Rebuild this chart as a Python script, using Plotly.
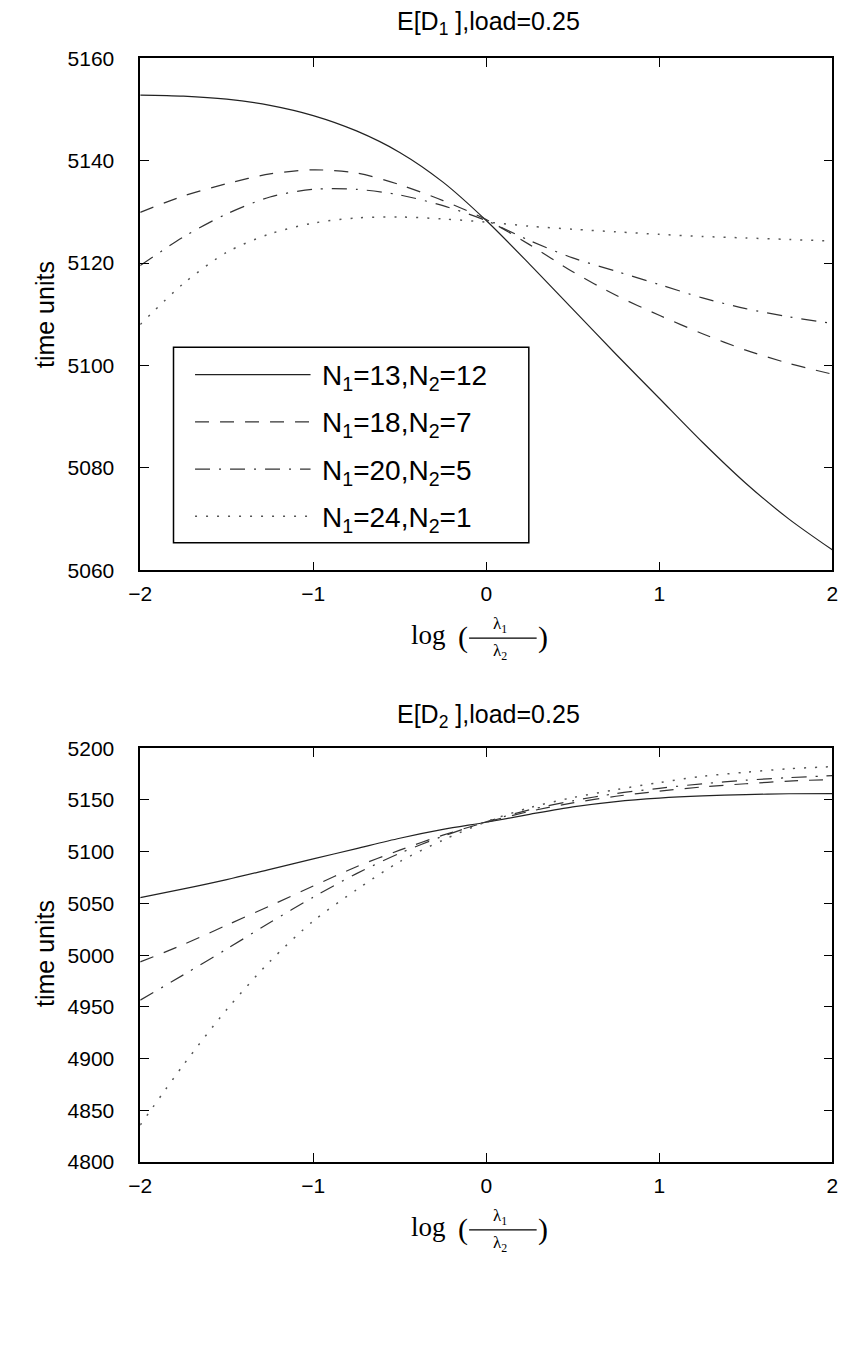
import plotly.graph_objects as go

W, H = 850, 1351

# ---------------- data ----------------
x_log_ratio = [-2, -1.75, -1.5, -1.25, -1, -0.75, -0.5, -0.25, 0,
               0.25, 0.5, 0.75, 1, 1.25, 1.5, 1.75, 2]

series_names = ["N<sub>1</sub>=13,N<sub>2</sub>=12",
                "N<sub>1</sub>=18,N<sub>2</sub>=7",
                "N<sub>1</sub>=20,N<sub>2</sub>=5",
                "N<sub>1</sub>=24,N<sub>2</sub>=1"]

# E[D1], load = 0.25
d1_13_12 = [5152.8, 5152.6, 5152.0, 5150.8, 5148.8, 5145.8, 5141.6, 5135.8, 5128.3,
            5119.8, 5111.0, 5102.2, 5093.6, 5085.0, 5077.0, 5070.0, 5064.0]
d1_18_7 = [5129.9, 5133.1, 5135.5, 5137.4, 5138.2, 5137.6, 5135.3, 5132.2, 5128.5,
           5123.6, 5118.3, 5113.7, 5109.8, 5106.2, 5103.0, 5100.4, 5098.3]
d1_20_5 = [5119.5, 5125.1, 5129.6, 5132.9, 5134.4, 5134.4, 5133.3, 5131.2, 5128.3,
           5124.4, 5121.0, 5118.4, 5115.8, 5113.2, 5111.1, 5109.5, 5108.2]
d1_24_1 = [5108.0, 5116.0, 5122.1, 5125.7, 5127.8, 5128.8, 5129.0, 5128.6, 5128.0,
           5127.2, 5126.6, 5126.1, 5125.6, 5125.2, 5124.9, 5124.6, 5124.3]

# E[D2], load = 0.25
d2_13_12 = [5055.7, 5064.0, 5073.0, 5083.0, 5093.0, 5103.0, 5113.0, 5121.5, 5128.5,
            5136.1, 5143.3, 5148.5, 5151.8, 5153.9, 5155.2, 5156.0, 5156.2]
d2_18_7 = [4993.5, 5010.3, 5029.0, 5047.7, 5066.8, 5085.5, 5101.5, 5116.0, 5128.5,
           5139.0, 5147.2, 5153.6, 5158.5, 5162.6, 5165.7, 5168.3, 5169.8]
d2_20_5 = [4956.5, 4981.0, 5006.0, 5031.5, 5056.0, 5078.8, 5098.5, 5115.0, 5129.0,
           5140.5, 5149.2, 5156.2, 5161.3, 5165.7, 5169.1, 5171.6, 5173.5]
d2_24_1 = [4835.8, 4894.0, 4947.5, 4994.0, 5033.0, 5063.2, 5090.4, 5111.2, 5129.0,
           5142.5, 5152.3, 5160.0, 5166.8, 5172.9, 5176.8, 5180.2, 5182.2]

x_ticks = [-2, -1, 0, 1, 2]
y1_ticks = [5060, 5080, 5100, 5120, 5140, 5160]
y2_ticks = [4800, 4850, 4900, 4950, 5000, 5050, 5100, 5150, 5200]

# ---------------- styles ----------------
styles = [
    dict(color="#222", width=1.2, dash="solid"),
    dict(color="#333", width=1.2, dash="14px,11px"),
    dict(color="#333", width=1.2, dash="15px,9px,2px,9px"),
    dict(color="#555", width=1.5, dash="2px,9px"),
]

def px(xp):
    return xp / W

def py(yp):
    return 1 - yp / H

FONT = "Liberation Sans, Arial, Helvetica, sans-serif"
SERIF = "Liberation Serif, Times New Roman, serif"

fig = go.Figure()

for ys, st, nm in zip([d1_13_12, d1_18_7, d1_20_5, d1_24_1], styles, series_names):
    fig.add_trace(go.Scatter(x=x_log_ratio, y=ys, mode="lines", name=nm,
                             line=dict(shape="spline", smoothing=0.8, **st),
                             xaxis="x", yaxis="y", showlegend=False))
for ys, st, nm in zip([d2_13_12, d2_18_7, d2_20_5, d2_24_1], styles, series_names):
    fig.add_trace(go.Scatter(x=x_log_ratio, y=ys, mode="lines", name=nm,
                             line=dict(shape="spline", smoothing=0.8, **st),
                             xaxis="x2", yaxis="y2", showlegend=False))

xdom = [px(131), px(838)]
axis_common = dict(showline=True, linecolor="black", linewidth=1.5, mirror="ticks",
                   ticks="inside", ticklen=9, tickcolor="black", tickwidth=1.3,
                   showgrid=False, zeroline=False,
                   tickfont=dict(family=FONT, size=21, color="black"))

fig.update_layout(
    width=W, height=H,
    margin=dict(l=0, r=0, t=0, b=0),
    paper_bgcolor="white", plot_bgcolor="white",
    xaxis=dict(domain=xdom, range=[-2, 2], tickvals=x_ticks, anchor="y",
               ticklabelstandoff=4, **axis_common),
    yaxis=dict(domain=[py(568), py(47)], range=[5060, 5160], tickvals=y1_ticks,
               anchor="x", ticklabelstandoff=20, **axis_common),
    xaxis2=dict(domain=xdom, range=[-2, 2], tickvals=x_ticks, anchor="y2",
                ticklabelstandoff=4, **axis_common),
    yaxis2=dict(domain=[py(1170), py(749)], range=[4800, 5200], tickvals=y2_ticks,
                anchor="x2", ticklabelstandoff=20, **axis_common),
    showlegend=False,
)

ann = []
shapes = []

# titles
ann.append(dict(text="E[D<sub>1</sub> ],load=0.25", x=px(487), y=py(11),
                font=dict(family=FONT, size=25, color="black")))
ann.append(dict(text="E[D<sub>2</sub> ],load=0.25", x=px(487), y=py(716),
                font=dict(family=FONT, size=25, color="black")))

# y-axis titles
for yc in (308, 958):
    ann.append(dict(text="time units", x=px(33), y=py(yc), textangle=-90,
                    font=dict(family=FONT, size=25, color="black")))

# x-axis titles: log ( lambda1 / lambda2 )
for yc in (636, 1238):
    ann.append(dict(text="log", x=px(425), y=py(yc - 2),
                    font=dict(family=SERIF, size=27, color="black")))
    ann.append(dict(text="(", x=px(461), y=py(yc),
                    font=dict(family=SERIF, size=30, color="black")))
    ann.append(dict(text=")", x=px(542), y=py(yc),
                    font=dict(family=SERIF, size=30, color="black")))
    ann.append(dict(text="λ<sub>1</sub>", x=px(499), y=py(yc - 12),
                    font=dict(family=SERIF, size=17, color="black")))
    ann.append(dict(text="λ<sub>2</sub>", x=px(499), y=py(yc + 15),
                    font=dict(family=SERIF, size=17, color="black")))
    shapes.append(dict(type="line", xref="paper", yref="paper",
                       x0=px(467), x1=px(536), y0=py(yc + 1), y1=py(yc + 1),
                       line=dict(color="black", width=1.3)))

# legend box (top panel)
shapes.append(dict(type="rect", xref="paper", yref="paper",
                   x0=px(165), x1=px(528), y0=py(540), y1=py(341),
                   line=dict(color="black", width=1.5), fillcolor="white", layer="above"))
for i, (nm, st) in enumerate(zip(series_names, styles)):
    yc = 369 + 48 * i
    shapes.append(dict(type="line", xref="paper", yref="paper",
                       x0=px(187), x1=px(305), y0=py(yc), y1=py(yc),
                       line=dict(color=st["color"], width=st["width"], dash=st["dash"]),
                       layer="above"))
    ann.append(dict(text=nm, x=px(315), y=py(yc + 3), xanchor="left",
                    font=dict(family=FONT, size=28, color="black")))

for a in ann:
    a.setdefault("xref", "paper")
    a.setdefault("yref", "paper")
    a.setdefault("showarrow", False)
    a.setdefault("xanchor", "center")
    a.setdefault("yanchor", "middle")

fig.update_layout(annotations=ann, shapes=shapes)
fig.write_html("out.html")
